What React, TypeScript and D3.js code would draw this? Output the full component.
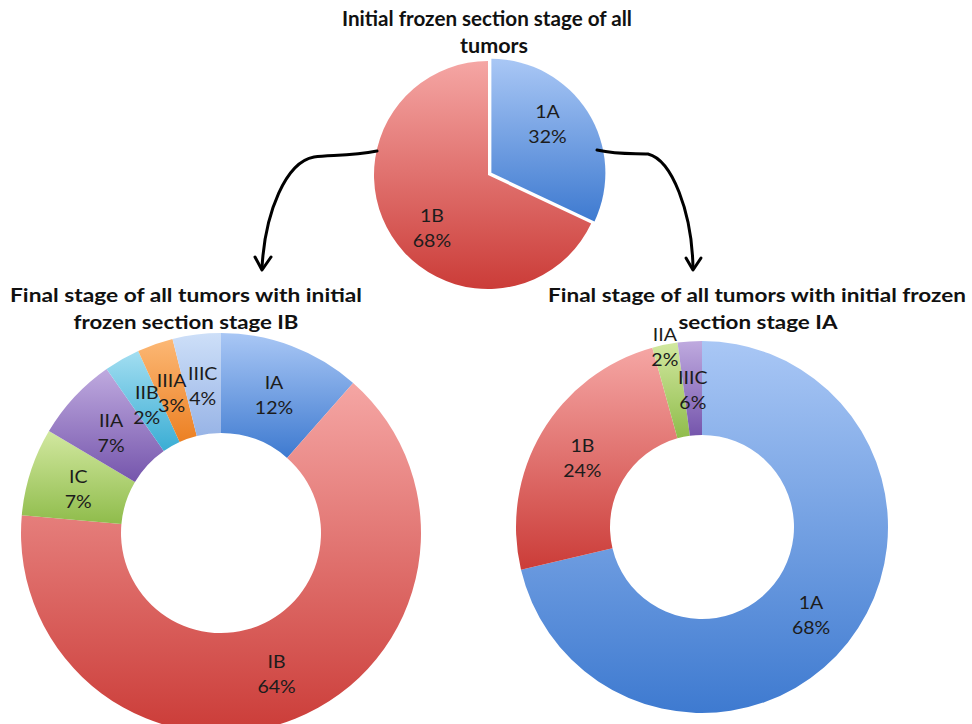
import React from 'react';
import * as d3 from 'd3';

// Top pie: initial frozen section stage
const topStages = ['1A', '1B'];
const topShare = [32, 68];
const topPct = ['32%', '68%'];

// Left donut: final stage, initial IB
const leftStages = ['IA', 'IB', 'IC', 'IIA', 'IIB', 'IIIA', 'IIIC'];
const leftShare = [11.5, 65, 7.1, 6.8, 2.9, 2.9, 3.9];
const leftPct = ['12%', '64%', '7%', '7%', '2%', '3%', '4%'];

// Right donut: final stage, initial IA
const rightStages = ['1A', '1B', 'IIA', 'IIIC'];
const rightShare = [71.3, 24.4, 2.2, 2.1];
const rightPct = ['68%', '24%', '2%', '6%'];

const W = 972;
const H = 724;
const FONT = 'Lato, "Open Sans", sans-serif';

const grads: Record<string, [string, string]> = {
  blue: ['#a9c7f5', '#3e7ad0'],
  red: ['#f5a6a4', '#cb3c38'],
  green: ['#d2e8a0', '#8fbc4b'],
  purple: ['#bfaadf', '#7555ac'],
  cyan: ['#a3def1', '#3aadd4'],
  orange: ['#fcb875', '#ec8023'],
  pale: ['#cddff8', '#98b4e6'],
};

const topColors = ['blue', 'red'];
const leftColors = ['blue', 'red', 'green', 'purple', 'cyan', 'orange', 'pale'];
const rightColors = ['blue', 'red', 'green', 'purple'];

type DonutProps = {
  cx: number;
  cy: number;
  outer: number;
  inner: number;
  stages: string[];
  share: number[];
  pct: string[];
  colors: string[];
  labelR: number;
  labelTurn?: number;
  explode?: string[];
  pushOut?: string[];
};

function Donut({ cx, cy, outer, inner, stages, share, pct, colors, labelR, labelTurn = 0, explode = [], pushOut = [] }: DonutProps) {
  const pie = d3.pie<number>().sort(null).value(d => d);
  const arcs = pie(share);
  const arc = d3.arc<d3.PieArcDatum<number>>().innerRadius(inner).outerRadius(outer);
  const offsetOf = (a: d3.PieArcDatum<number>, i: number) => {
    const mid = (a.startAngle + a.endAngle) / 2;
    const off = explode.includes(stages[i]) ? 4 : 0;
    return [Math.sin(mid) * off, -Math.cos(mid) * off];
  };
  return (
    <g transform={`translate(${cx},${cy})`}>
      {arcs.map((a, i) => {
        const [dx, dy] = offsetOf(a, i);
        return (
          <path
            key={stages[i]}
            d={arc(a) || ''}
            transform={`translate(${dx},${dy})`}
            fill={`url(#g-${colors[i]})`}
          />
        );
      })}
      {arcs.map((a, i) => {
        const [dx, dy] = offsetOf(a, i);
        const r = pushOut.includes(stages[i]) ? outer : labelR;
        const ang = (a.startAngle + a.endAngle) / 2 + labelTurn;
        const lx = Math.sin(ang) * r + dx;
        const ly = -Math.cos(ang) * r + dy;
        return (
          <g key={'t' + stages[i]} transform={`translate(${lx},${ly}) scale(1.15,1)`}>
            <text textAnchor="middle" fontFamily={FONT} fontSize={17} fill="#1c1c1c">
              <tspan x={0} y={-4}>{stages[i]}</tspan>
              <tspan x={0} y={21}>{pct[i]}</tspan>
            </text>
          </g>
        );
      })}
    </g>
  );
}

type Line = { text: string; x: number; width: number };

function Title({ y, size, lines }: { y: number; size: number; lines: Line[] }) {
  return (
    <g fontFamily={FONT} fontWeight="bold" fontSize={size} fill="#111">
      {lines.map((l, i) => (
        <text
          key={i}
          x={l.x}
          y={y + i * 27}
          textAnchor="middle"
          textLength={l.width}
          lengthAdjust="spacingAndGlyphs"
        >
          {l.text}
        </text>
      ))}
    </g>
  );
}

export default function App() {
  return (
    <svg width={W} height={H} style={{ position: 'absolute', left: 0, top: 0, background: '#fff' }}>
      <defs>
        {Object.entries(grads).map(([k, [c1, c2]]) => (
          <linearGradient key={k} id={`g-${k}`} x1="0" y1="0" x2="0" y2="1">
            <stop offset="0" stopColor={c1} />
            <stop offset="1" stopColor={c2} />
          </linearGradient>
        ))}
      </defs>

      <Title
        y={26}
        size={20.5}
        lines={[
          { text: 'Initial frozen section stage of all', x: 487, width: 290 },
          { text: 'tumors', x: 494, width: 68 },
        ]}
      />
      <Title
        y={302}
        size={18.5}
        lines={[
          { text: 'Final stage of all tumors with initial', x: 186, width: 352 },
          { text: 'frozen section stage IB', x: 186, width: 225 },
        ]}
      />
      <Title
        y={302}
        size={18.5}
        lines={[
          { text: 'Final stage of all tumors with initial frozen', x: 757, width: 418 },
          { text: 'section stage IA', x: 758, width: 159 },
        ]}
      />

      <Donut
        cx={488}
        cy={175}
        outer={114}
        inner={0}
        stages={topStages}
        share={topShare}
        pct={topPct}
        colors={topColors}
        labelR={76}
        labelTurn={-10 * Math.PI / 180}
        explode={['1A']}
      />
      <Donut
        cx={221}
        cy={533}
        outer={200}
        inner={100}
        stages={leftStages}
        share={leftShare}
        pct={leftPct}
        colors={leftColors}
        labelR={150}
      />
      <Donut
        cx={702}
        cy={527}
        outer={186}
        inner={92}
        stages={rightStages}
        share={rightShare}
        pct={rightPct}
        colors={rightColors}
        labelR={139}
        pushOut={['IIA']}
      />

      {/* connector arrows */}
      <g fill="none" stroke="#000" strokeWidth={3} strokeLinecap="round" strokeLinejoin="round">
        <path d="M377,151 C352,156 332,155 314,157 C286,162 265,212 262,268" />
        <path d="M255,257 L262,270 L271,257" />
        <path d="M597,150 C620,155 636,153 648,154 C672,160 692,212 693,268" />
        <path d="M686,258 L693,270 L701,258" />
      </g>
    </svg>
  );
}
